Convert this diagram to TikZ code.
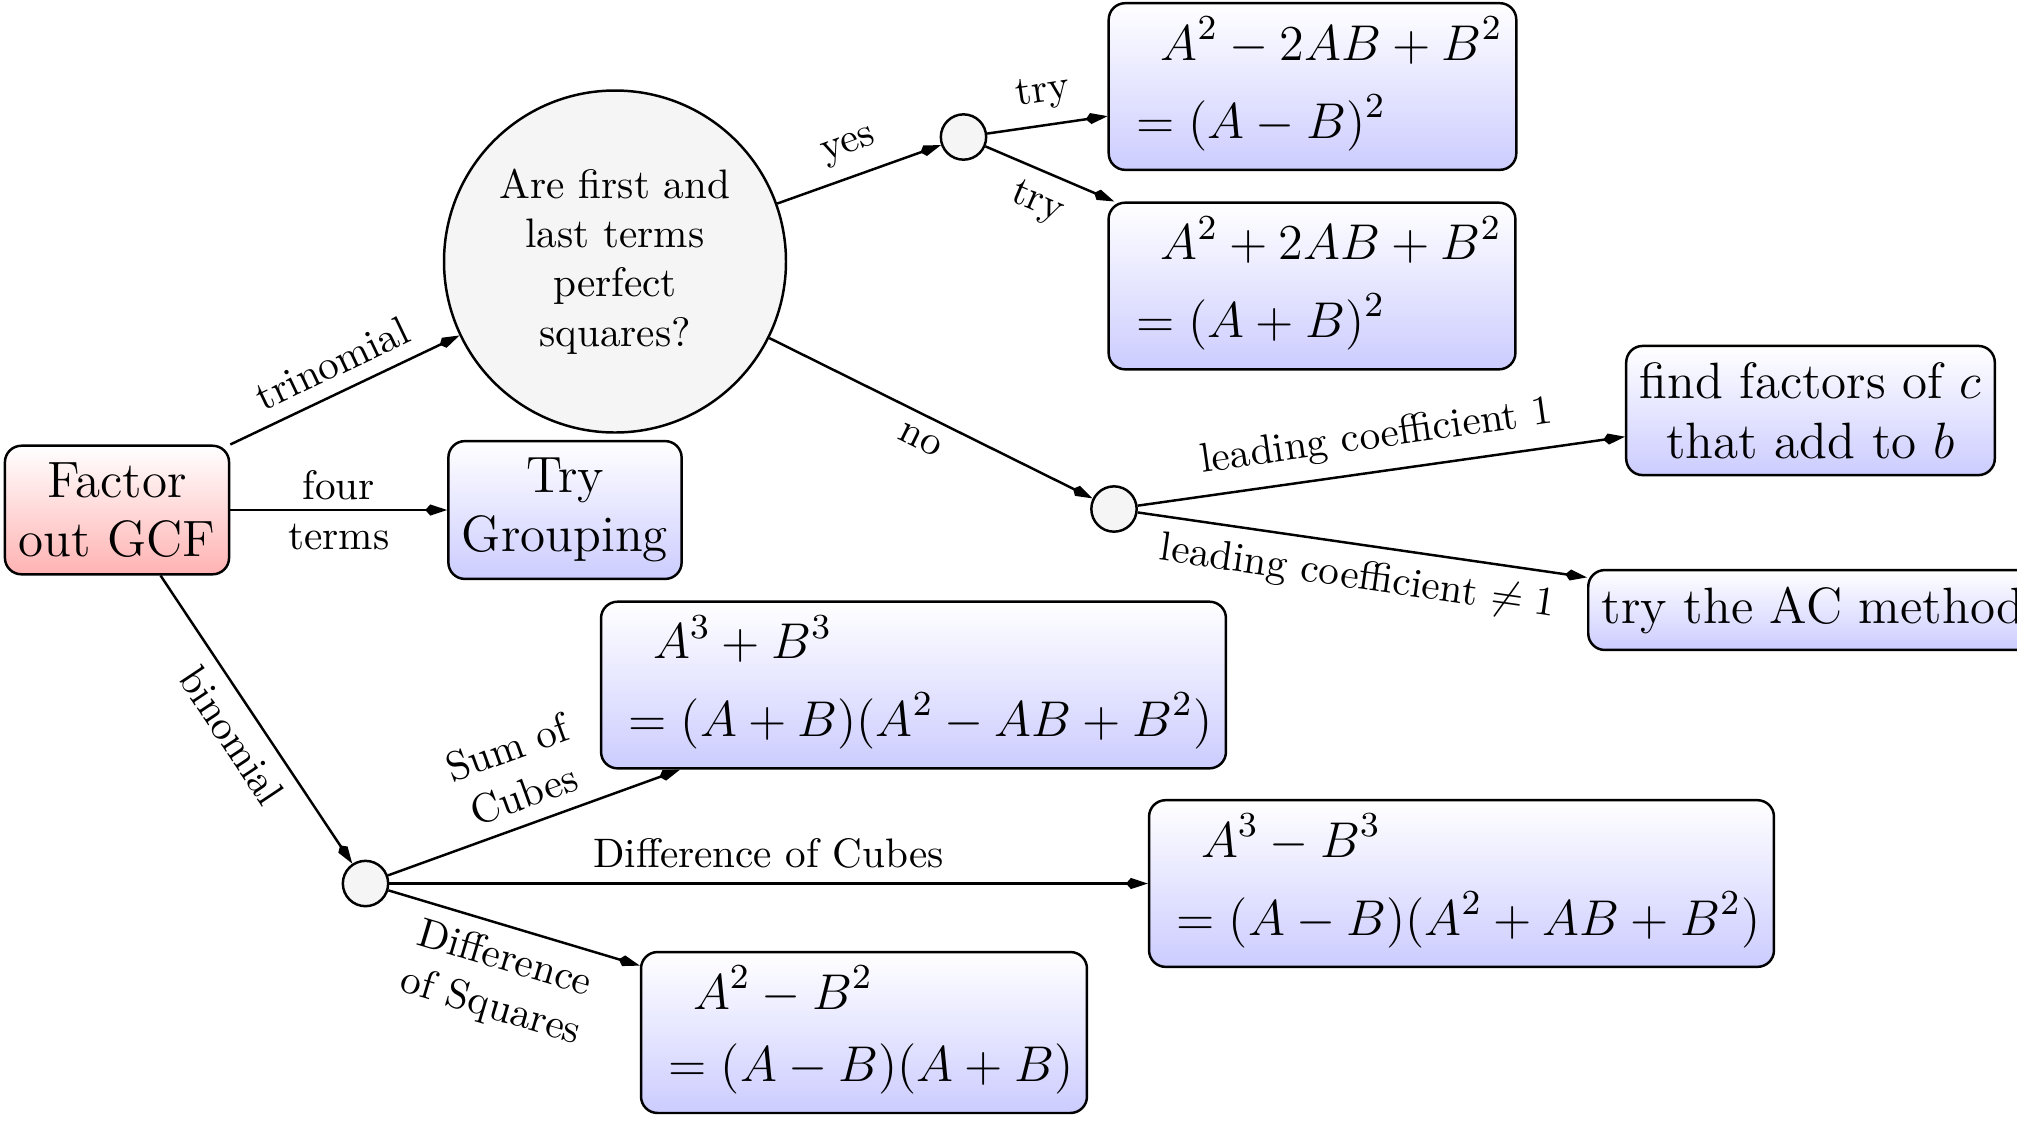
\RequirePackage{fix-cm}
\documentclass[tikz,border=0pt]{standalone}
\usepackage{amsmath}
\usetikzlibrary{arrows.meta}
\newcommand{\boxfont}{\fontsize{12.4}{14.5}\selectfont}
\newcommand{\mathboxfont}{\fontsize{12.2}{14.5}\selectfont}
\begin{document}
\begin{tikzpicture}[x=0.2427pt,y=-0.2427pt,
  box/.style={draw, semithick, rounded corners=4pt, top color=white, bottom color=blue!20, font=\mathboxfont},
  tbox/.style={draw, semithick, rounded corners=4pt, top color=white, bottom color=blue!20, font=\boxfont, inner xsep=3.3pt, inner ysep=4pt},
  gcfbox/.style={tbox, bottom color=red!30},
  bigq/.style={draw, semithick, circle, fill=gray!8, align=center, minimum size=83pt, inner sep=1pt},
  dot/.style={draw, semithick, circle, fill=gray!8, minimum size=11pt, inner sep=0pt},
  arr/.style={semithick, -{Kite[length=5.3pt,width=2.7pt,inset=1.2pt]}},
  lbl/.style={midway, sloped}]
\useasboundingbox (0,0) rectangle (2017,1121);

% nodes
\node[gcfbox, align=center] (gcf) at (117,510) {Factor\\out GCF};
\node[bigq] (q) at (615,261.5) {Are first and\\last terms\\perfect\\squares?};
\node[tbox, align=center] (grp) at (565,510) {Try\\Grouping};
\node[dot] (c1) at (963.5,137) {};
\node[box] (b1) at (1312.5,86.5) {$\begin{aligned}&\hspace{9.3pt}A^2-2AB+B^2\\&=(A-B)^2\end{aligned}$};
\node[box] (b2) at (1312,286) {$\begin{aligned}&\hspace{9.3pt}A^2+2AB+B^2\\&=(A+B)^2\end{aligned}$};
\node[dot] (c2) at (1114,509) {};
\node[tbox, align=center] (ff) at (1810.5,410.5) {find factors of $c$\\that add to $b$};
\node[tbox, anchor=west] (ac) at (1587,610) {try the AC method};
\node[dot] (c3) at (365.5,883.5) {};
\node[box] (s3) at (913.5,685) {$\begin{aligned}&\hspace{9.3pt}A^3+B^3\\&=(A+B)(A^2-AB+B^2)\end{aligned}$};
\node[box] (d3) at (1461.5,883.5) {$\begin{aligned}&\hspace{9.3pt}A^3-B^3\\&=(A-B)(A^2+AB+B^2)\end{aligned}$};
\node[box] (d2) at (864,1032.5) {$\begin{aligned}&\hspace{9.3pt}A^2-B^2\\&=(A-B)(A+B)\end{aligned}$};

% connectors
\draw[arr] (gcf.north east) -- (q) node[lbl, above] {trinomial};
\draw[arr] (gcf) -- (grp) node[midway, align=center] {four\\terms};
\draw[arr] (gcf) -- (c3) node[lbl, below] {binomial};
\draw[arr] (q) -- (c1) node[lbl, above] {yes};
\draw[arr] (q) -- (c2) node[lbl, below] {no};
\draw[arr] (c1) -- (b1) node[lbl, above] {try};
\draw[arr] (c1) -- (b2) node[lbl, below] {try};
\draw[arr] (c2) -- (ff) node[lbl, above] {leading coefficient 1};
\draw[arr] (c2) -- (ac) node[lbl, below] {leading coefficient $\neq 1$};
\draw[arr] (c3) -- (s3) node[lbl, above, align=center] {Sum of\\Cubes};
\draw[arr] (c3) -- (d3) node[lbl, above] {Difference of Cubes};
\draw[arr] (c3) -- (d2) node[lbl, below, align=center] {Difference\\of Squares};
\end{tikzpicture}
\end{document}
